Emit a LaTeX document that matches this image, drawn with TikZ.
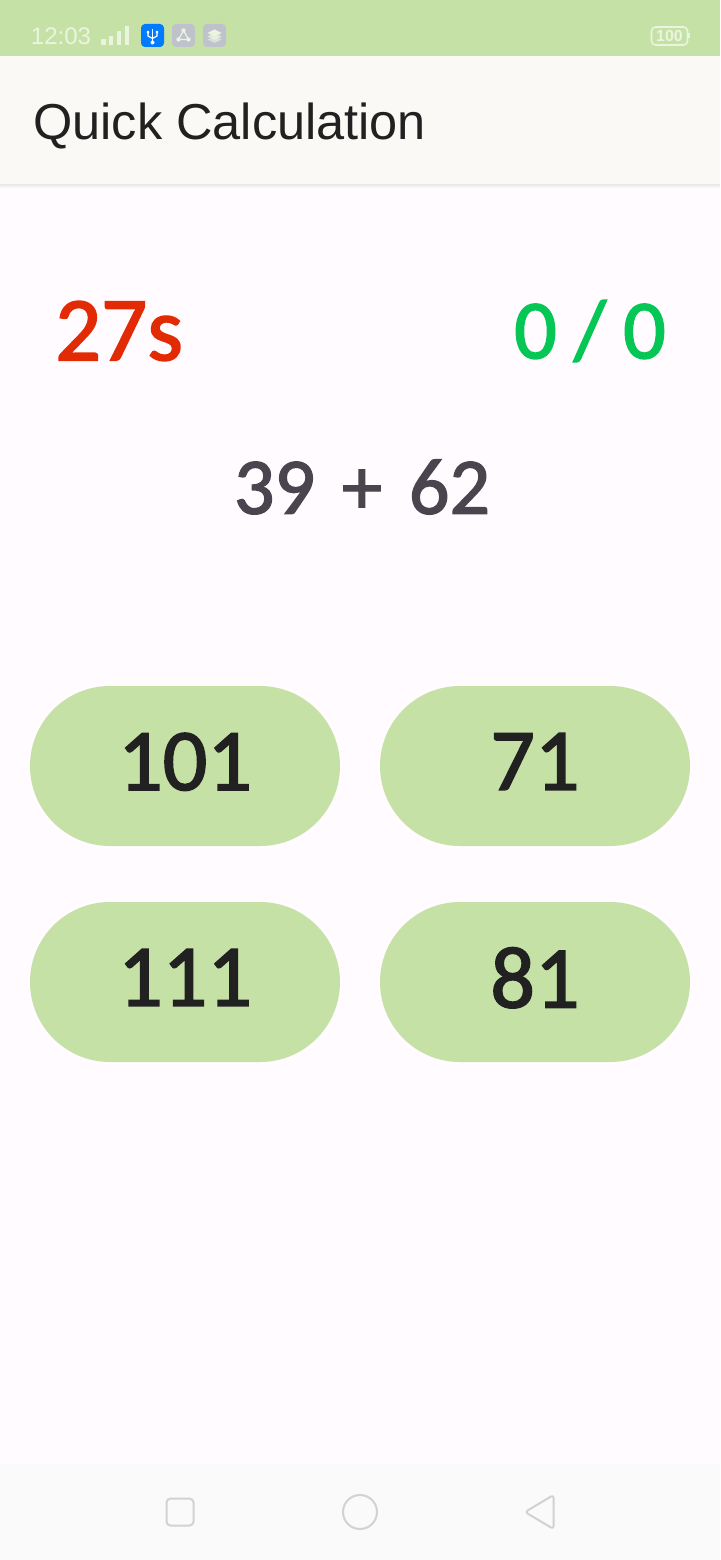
\documentclass[tikz,border=0pt]{standalone}
\usepackage{fontspec}
\setmainfont{Liberation Sans}
\newfontfamily\numfont[FakeBold=1.8]{Carlito}
\definecolor{bargreen}{HTML}{C6E1A6}
\definecolor{pagebg}{HTML}{FFFBFF}
\definecolor{headbg}{HTML}{FAF9F6}
\definecolor{navbg}{HTML}{FAFAFA}
\definecolor{navgrey}{HTML}{D2D2D2}
\definecolor{inkdark}{HTML}{212121}
\definecolor{inkprob}{HTML}{48454E}
\definecolor{timered}{HTML}{E22B05}
\definecolor{scoregreen}{HTML}{06C755}
\definecolor{barwhite}{HTML}{EAF4DF}
\definecolor{iconblue}{HTML}{007AFF}
\definecolor{icongrey}{HTML}{BFC2CB}
\tikzset{
  answer/.style={fill=bargreen,rounded corners=80pt,minimum width=310pt,minimum height=160pt,inner sep=0pt,text depth=9pt,text=inkdark,font=\numfont\fontsize{88}{88}\selectfont},
  badge/.style={rounded corners=4pt,minimum size=23pt,inner sep=0pt},
  navicon/.style={draw=navgrey,line width=2pt,line join=round},
}
\begin{document}
\begin{tikzpicture}[x=1pt,y=-1pt]
\useasboundingbox (0,0) rectangle (720,1560);
\fill[pagebg] (0,0) rectangle (720,1560);
% status bar
\fill[bargreen] (0,0) rectangle (720,56);
\node[text=barwhite,font=\fontsize{24}{24}\selectfont] (clock) at (61,36.5) {12:03};
\fill[barwhite] (101,39) rectangle (105.7,45);
\fill[barwhite] (109,35.7) rectangle (113.3,45);
\fill[barwhite] (116.7,30.7) rectangle (121,45);
\fill[barwhite] (125,26) rectangle (129.3,45);
\node[badge,fill=iconblue] (usb) at (152.5,35.5) {};
\draw[white,line width=1.8pt] (152.5,29) -- (152.5,42);
\draw[white,line width=1.2pt] (148,33) -- (148,36) -- (152.5,38.5) -- (157,36) -- (157,33);
\fill[white] (152.5,42.5) circle (2pt) (146.8,31) rectangle (149.2,33.5) (155.8,31) rectangle (158.2,33.5);
\node[badge,fill=icongrey] (share) at (183.5,35.5) {};
\draw[barwhite,line width=1.2pt] (183.5,30.5) -- (178.5,39.5) -- (188.5,39.5) -- cycle;
\fill[barwhite] (183.5,30.5) circle (2.2pt) (178.5,39.5) circle (2.2pt) (188.5,39.5) circle (2.2pt);
\node[badge,fill=icongrey] (layers) at (214.5,35.5) {};
\fill[barwhite] (207.5,33) -- (214.5,29.5) -- (221.5,33) -- (214.5,36.5) -- cycle;
\fill[barwhite,opacity=.8] (207.5,36.5) -- (214.5,33) -- (221.5,36.5) -- (214.5,40) -- cycle;
\fill[barwhite,opacity=.6] (207.5,39.5) -- (214.5,36) -- (221.5,39.5) -- (214.5,43) -- cycle;
\node[draw=barwhite,line width=1.6pt,rounded corners=4pt,minimum width=36pt,minimum height=18pt,inner sep=0pt,text=barwhite,font=\bfseries\fontsize{16}{16}\selectfont] (battery) at (669.5,36) {100};
\fill[barwhite] (688,33.5) rectangle (690,38.5);
% app bar
\fill[black!4] (0,184) rectangle (720,188);
\fill[black!9] (0,184) rectangle (720,186);
\fill[headbg] (0,56) rectangle (720,184);
\node[anchor=west,text=inkdark,font=\fontsize{50.5}{50.5}\selectfont,inner sep=0pt] (title) at (33,126) {Quick Calculation};
% score row
\node[text=timered,font=\numfont\fontsize{91}{91}\selectfont] (timer) at (119,331) {27s};
\node[text=scoregreen,font=\numfont\fontsize{84}{84}\selectfont] (score) at (590,331) {\spaceskip=17pt\relax 0 / 0};
\node[text=inkprob,font=\numfont\fontsize{80}{80}\selectfont,inner sep=0pt] (problem) at (362,487) {\spaceskip=27pt\relax 39 + 62};
% answers
\node[answer] (ansa) at (185,766) {101};
\node[answer] (ansb) at (535,766) {71};
\node[answer] (ansc) at (185,982) {111};
\node[answer] (ansd) at (535,982) {81};
% navigation bar
\fill[navbg] (0,1464) rectangle (720,1560);
\draw[navicon,rounded corners=4pt] (166.5,1498.5) rectangle (193.5,1525.5);
\draw[navicon] (360,1512) circle (17pt);
\draw[navicon,rounded corners=3pt] (553.5,1495) -- (553.5,1529) -- (525,1512) -- cycle;
\end{tikzpicture}
\end{document}
